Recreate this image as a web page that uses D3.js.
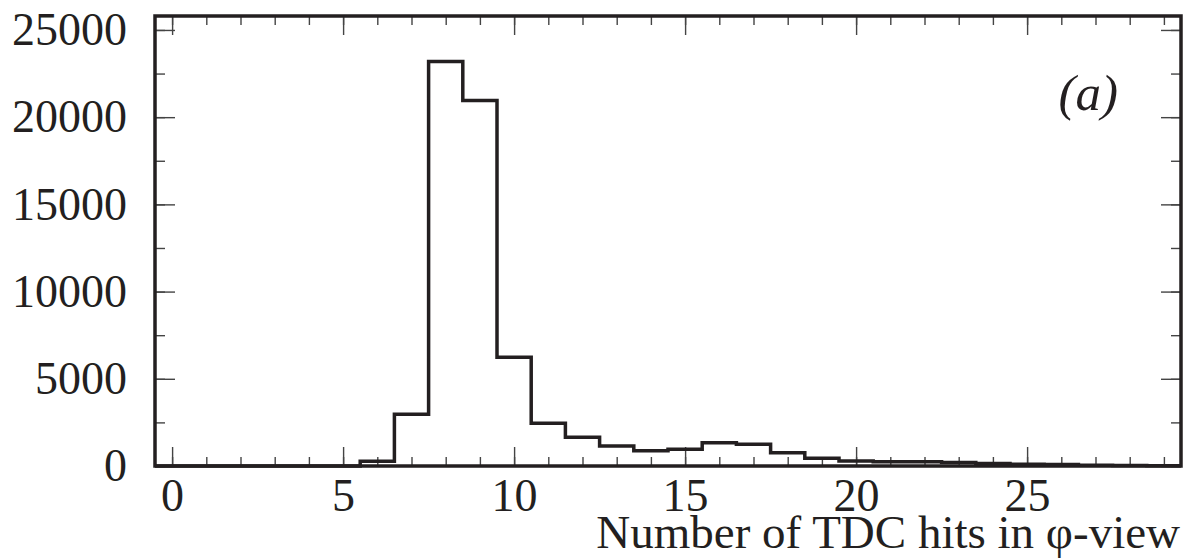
<!DOCTYPE html>
<html>
<head>
<meta charset="utf-8">
<script src="https://cdn.jsdelivr.net/npm/d3@7"></script>
<style>
  body { margin: 0; background: #fff; }
  text { font-family: "Liberation Serif", "Times New Roman", serif; fill: #231f20; }
</style>
</head>
<body>
<div id="viz"></div>
<script>
// bin centres 0..29, counts per bin
var bins = d3.range(0, 30);
var counts = [0, 0, 0, 0, 0, 0, 270, 2970, 23190, 20950,
              6230, 2450, 1645, 1150, 880, 955, 1335, 1240, 760, 440,
              290, 250, 240, 200, 140, 100, 90, 40, 30, 20];
var xMajor = [0, 5, 10, 15, 20, 25];
var yMajor = [0, 5000, 10000, 15000, 20000, 25000];
var xTitle = 'Number of TDC hits in \u03c6-view';
var tag = '(a)';

var W = 1189, H = 559,
    margin = { top: 16, right: 8, bottom: 93, left: 155 },
    width = W - margin.left - margin.right,
    height = H - margin.top - margin.bottom;

var xScale = d3.scaleLinear().domain([-0.5, 29.5]).range([0, width]);
var yScale = d3.scaleLinear().domain([0, 25800]).range([height, 0]);

var svg = d3.select('#viz').append('svg')
  .attr('width', W)
  .attr('height', H);

var g = svg.append('g')
  .attr('transform', 'translate(' + margin.left + ',' + margin.top + ')');

// minor ticks
var xMinor = d3.range(0, 30);
var yMinor = d3.range(0, 25801, 2500);

function styleAxis(sel) {
  sel.select('.domain').remove();
  sel.selectAll('.tick line').attr('stroke', '#444').attr('stroke-width', 1.4);
}

g.append('g').attr('transform', 'translate(0,' + height + ')')
  .call(d3.axisBottom(xScale).tickValues(xMinor).tickSize(-9).tickFormat(''))
  .call(styleAxis);
g.append('g').call(d3.axisTop(xScale).tickValues(xMinor).tickSize(-9).tickFormat(''))
  .call(styleAxis);
g.append('g').call(d3.axisLeft(yScale).tickValues(yMinor).tickSize(-10).tickFormat(''))
  .call(styleAxis);
g.append('g').attr('transform', 'translate(' + width + ',0)')
  .call(d3.axisRight(yScale).tickValues(yMinor).tickSize(-10).tickFormat(''))
  .call(styleAxis);

// major ticks with labels
g.append('g').attr('transform', 'translate(0,' + height + ')')
  .call(d3.axisBottom(xScale).tickValues(xMajor).tickSize(-19).tickPadding(12).tickFormat(d3.format('d')))
  .call(styleAxis);
g.append('g').call(d3.axisTop(xScale).tickValues(xMajor).tickSize(-19).tickFormat(''))
  .call(styleAxis);
g.append('g')
  .call(d3.axisLeft(yScale).tickValues(yMajor).tickSize(-20).tickPadding(28).tickFormat(d3.format('d')))
  .call(styleAxis);
g.append('g').attr('transform', 'translate(' + width + ',0)')
  .call(d3.axisRight(yScale).tickValues(yMajor).tickSize(-20).tickFormat(''))
  .call(styleAxis);

svg.selectAll('.tick text')
  .attr('font-family', '"Liberation Serif", serif')
  .attr('font-size', 46)
  .attr('fill', '#231f20');

// histogram outline
var pts = [];
bins.forEach(function(b, i) {
  pts.push([b - 0.5, counts[i]]);
  pts.push([b + 0.5, counts[i]]);
});
var line = d3.line()
  .x(function(d) { return xScale(d[0]); })
  .y(function(d) { return yScale(d[1]); });

g.append('path')
  .datum(pts)
  .attr('d', line)
  .attr('fill', 'none')
  .attr('stroke', '#231f20')
  .attr('stroke-width', 3.5)
  .attr('stroke-linejoin', 'miter');

// frame
g.append('rect')
  .attr('x', 0).attr('y', 0)
  .attr('width', width).attr('height', height)
  .attr('fill', 'none')
  .attr('stroke', '#231f20')
  .attr('stroke-width', 3.5);

// axis title
svg.append('text')
  .attr('x', margin.left + width - 1)
  .attr('y', 548)
  .attr('text-anchor', 'end')
  .attr('font-size', 47)
  .text(xTitle);

// panel tag
svg.append('text')
  .attr('x', 1118)
  .attr('y', 110)
  .attr('text-anchor', 'end')
  .attr('font-size', 51)
  .attr('font-style', 'italic')
  .text(tag);
</script>
</body>
</html>
